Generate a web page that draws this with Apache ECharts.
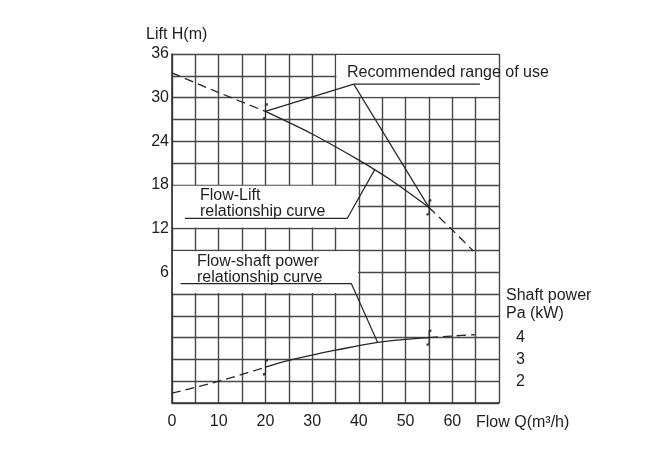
<!DOCTYPE html>
<html><head><meta charset="utf-8">
<script src="https://cdn.jsdelivr.net/npm/echarts@6/dist/echarts.min.js"></script>
<style>html,body{margin:0;padding:0;background:#fff}#c{width:650px;height:450px}</style>
</head><body><div id="c"></div>
<script>
// ---- data (Q in m3/h, H in m, P in kW) ----
const xTickLabels = [0, 10, 20, 30, 40, 50, 60];
const liftTickLabels = [6, 12, 18, 24, 30, 36];
const powerTickLabels = [2, 3, 4];

const liftLeft  = [[0, 33.4], [10, 30.7], [20, 28.1]];
const liftMid   = [[20, 28.1], [30, 25.0], [40, 21.4], [47, 18.6], [55, 14.9]];
const liftRight = [[55, 14.9], [60, 11.8], [64.5, 8.9]];

const powerLeft  = [[0, 1.45], [10, 2.0], [20, 2.64]];
const powerMid   = [[20, 2.64], [25, 2.95], [30, 3.2], [35, 3.42], [44, 3.78], [50, 3.92], [55, 4.0]];
const powerRight = [[55, 4.0], [60, 4.07], [64.8, 4.13]];

const liftMarks  = [[20, 28.1], [55, 14.9]];
const powerMarks = [[20, 2.64], [55, 4.0]];

// annotation leaders
const leaderRangeA = [[65.9, 31.86], [38.9, 31.86], [20, 28.1]];
const leaderRangeB = [[38.9, 31.86], [55, 14.9]];
const leaderLift   = [[2.77, 13.38], [37.5, 13.38], [43.4, 20.1]];
const leaderPower  = [[1.85, 6.47], [38.4, 6.47], [44, 3.78]];

// blank boxes (no grid) behind the text
const blankBoxes = [
  [[0.2, 12.13], [39.8, 17.87]],
  [[0.2, 3.13], [39.8, 8.87]],
  [[35.2, 30.13], [69.8, 35.87]]
];

const FONT = '"Liberation Sans", Arial, sans-serif';
const TXT = '#1e1e1e';
const GRIDC = '#474747';
const LINEC = '#262626';

const chart = echarts.init(document.getElementById('c'), null, {renderer: 'canvas'});

const markSym = 'path://M4,0 L2.5,0 L2,1 L2,12 L1.5,13 L0,13';

function lineSeries(data, dashed, yIdx, z) {
  return {
    type: 'line', data: data, yAxisIndex: yIdx, smooth: 0.3, symbol: 'none', z: z || 4,
    lineStyle: {color: LINEC, width: 1.3, type: dashed ? [9, 5] : 'solid'},
    silent: true, animation: false
  };
}

const option = {
  animation: false,
  textStyle: {fontFamily: FONT},
  grid: {left: 172, top: 54, width: 327, height: 349, containLabel: false},
  xAxis: {
    type: 'value', min: 0, max: 70, interval: 5,
    axisLine: {show: true, onZero: false, lineStyle: {color: '#333', width: 1.6}},
    axisTick: {show: false},
    splitLine: {show: true, lineStyle: {color: GRIDC, width: 1.4}},
    axisLabel: {
      color: TXT, fontSize: 16, fontFamily: FONT, margin: 11,
      formatter: v => xTickLabels.indexOf(v) >= 0 ? String(v) : ''
    }
  },
  yAxis: [{
    type: 'value', min: -12, max: 36, interval: 3,
    axisLine: {show: true, onZero: false, lineStyle: {color: '#333', width: 1.6}},
    axisTick: {show: false},
    splitLine: {show: true, lineStyle: {color: GRIDC, width: 1.4}},
    axisLabel: {
      color: TXT, fontSize: 16, fontFamily: FONT, margin: 3,
      formatter: v => liftTickLabels.indexOf(v) >= 0 ? String(v) : ''
    }
  }, {
    type: 'value', min: 1, max: 17, interval: 1, position: 'right',
    axisLine: {show: false}, axisTick: {show: false}, splitLine: {show: false},
    axisLabel: {
      color: TXT, fontSize: 16, fontFamily: FONT, margin: 17,
      formatter: v => powerTickLabels.indexOf(v) >= 0 ? String(v) : ''
    }
  }],
  series: [
    {
      type: 'line', data: [], z: 1, silent: true,
      markArea: {
        silent: true,
        itemStyle: {color: '#ffffff', opacity: 1},
        label: {show: false},
        data: blankBoxes.map(b => [{coord: b[0]}, {coord: b[1]}])
      }
    },
    lineSeries(liftLeft, true, 0),
    lineSeries(liftMid, false, 0),
    lineSeries(liftRight, true, 0),
    lineSeries(powerLeft, true, 1),
    lineSeries(powerMid, false, 1),
    lineSeries(powerRight, true, 1),
    {type: 'line', data: leaderRangeA, yAxisIndex: 0, symbol: 'none', z: 5, silent: true,
     lineStyle: {color: LINEC, width: 1.2}},
    {type: 'line', data: leaderRangeB, yAxisIndex: 0, symbol: 'none', z: 5, silent: true,
     lineStyle: {color: LINEC, width: 1.2}},
    {type: 'line', data: leaderLift, yAxisIndex: 0, symbol: 'none', z: 5, silent: true,
     lineStyle: {color: LINEC, width: 1.2}},
    {type: 'line', data: leaderPower, yAxisIndex: 1, symbol: 'none', z: 5, silent: true,
     lineStyle: {color: LINEC, width: 1.2}},
    {type: 'scatter', data: liftMarks, yAxisIndex: 0, symbol: markSym, symbolSize: [5, 14], z: 6, silent: true,
     itemStyle: {color: 'rgba(0,0,0,0)', borderColor: '#111', borderWidth: 1.4}},
    {type: 'scatter', data: powerMarks, yAxisIndex: 1, symbol: markSym, symbolSize: [5, 14], z: 6, silent: true,
     itemStyle: {color: 'rgba(0,0,0,0)', borderColor: '#111', borderWidth: 1.4}}
  ],
  graphic: [
    {type: 'text', left: 146, top: 27, z: 10, style: {text: 'Lift H(m)', font: '16px ' + FONT, fill: TXT}},
    {type: 'text', left: 476, top: 415, z: 10, style: {text: 'Flow Q(m³/h)', font: '16px ' + FONT, fill: TXT}},
    {type: 'text', left: 506, top: 288, z: 10, style: {text: 'Shaft power', font: '16px ' + FONT, fill: TXT}},
    {type: 'text', left: 506, top: 306, z: 10, style: {text: 'Pa (kW)', font: '16px ' + FONT, fill: TXT}},
    {type: 'text', left: 347, top: 65, z: 10, style: {text: 'Recommended range of use', font: '16px ' + FONT, fill: TXT}},
    {type: 'text', left: 200, top: 188, z: 10, style: {text: 'Flow-Lift', font: '16px ' + FONT, fill: TXT}},
    {type: 'text', left: 200, top: 204, z: 10, style: {text: 'relationship curve', font: '16px ' + FONT, fill: TXT}},
    {type: 'text', left: 197, top: 254, z: 10, style: {text: 'Flow-shaft power', font: '16px ' + FONT, fill: TXT}},
    {type: 'text', left: 197, top: 270, z: 10, style: {text: 'relationship curve', font: '16px ' + FONT, fill: TXT}}
  ]
};
chart.setOption(option);
</script>
</body></html>
